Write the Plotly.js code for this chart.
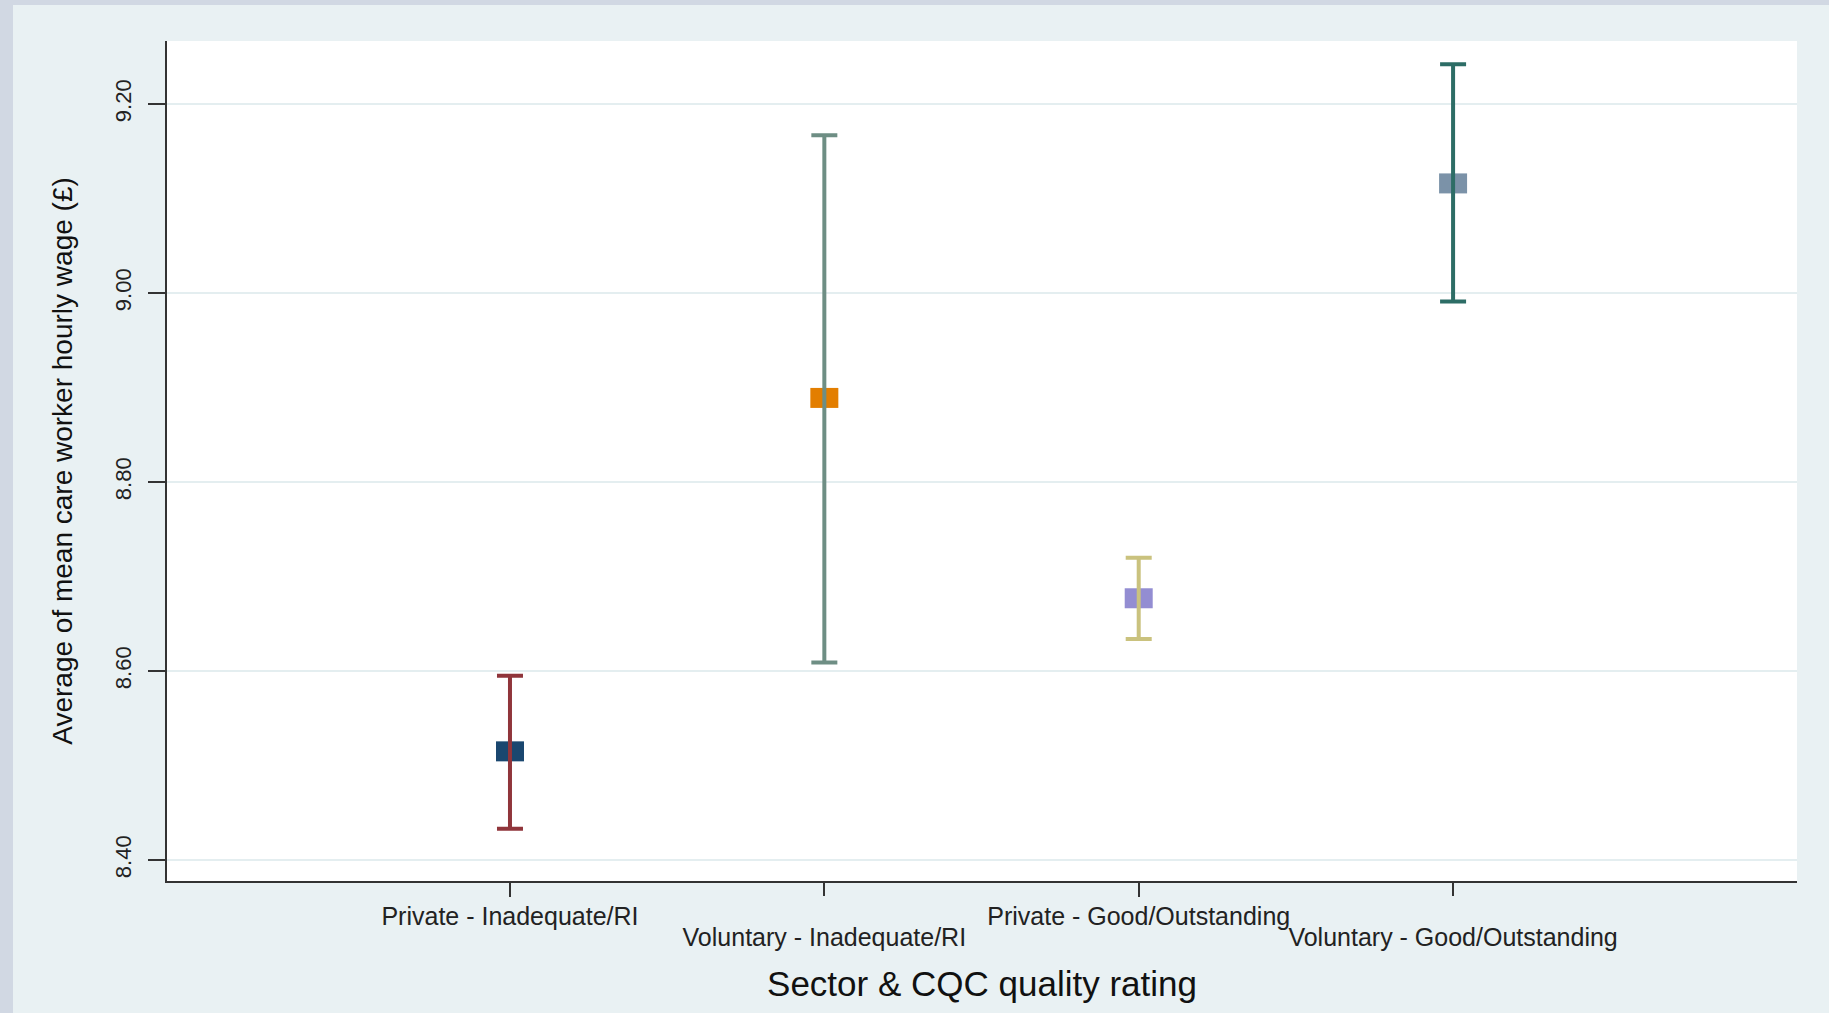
<!DOCTYPE html>
<html>
<head>
<meta charset="utf-8">
<script src="https://cdn.plot.ly/plotly-3.0.1.min.js"></script>
<style>
  html, body { margin: 0; padding: 0; background: #d1d8e3; width: 1829px; height: 1013px; overflow: hidden; }
  #chart { position: absolute; left: 13px; top: 5px; width: 1816px; height: 1008px; }
</style>
</head>
<body>
<div id="chart"></div>
<script>
// ---- Data ----
const categories = [
  'Private - Inadequate/RI',
  'Voluntary - Inadequate/RI',
  'Private - Good/Outstanding',
  'Voluntary - Good/Outstanding'
];
const meanWage = [8.515, 8.889, 8.677, 9.116];
const upperCI  = [8.595, 9.167, 8.720, 9.242];
const lowerCI  = [8.433, 8.609, 8.634, 8.991];

// ---- Styles ----
const markerColors = ['#1a476f', '#e37e00', '#938dd2', '#7b92a8'];
const barColors    = ['#90353b', '#6e8e84', '#cac27e', '#2d6d66'];
const FONT = '"Liberation Sans", Arial, Helvetica, sans-serif';

const xs = categories.map((c, i) => i);

const traces = [];
// mean markers (rectangles drawn as thick horizontal line symbols)
traces.push({
  type: 'scatter', mode: 'markers',
  x: xs, y: meanWage,
  xaxis: 'x', yaxis: 'y',
  marker: {
    symbol: 'line-ew', size: 20,
    color: markerColors,
    line: { color: markerColors, width: 20 }
  },
  hoverinfo: 'skip', showlegend: false
});
// confidence intervals, one trace per category, drawn on top
categories.forEach((c, i) => {
  traces.push({
    type: 'scatter', mode: 'markers',
    x: [xs[i]], y: [meanWage[i]],
    xaxis: 'x2', yaxis: 'y',
    marker: { size: 1, opacity: 0 },
    error_y: {
      type: 'data', symmetric: false,
      array: [upperCI[i] - meanWage[i]],
      arrayminus: [meanWage[i] - lowerCI[i]],
      color: barColors[i], thickness: 4, width: 13
    },
    hoverinfo: 'skip', showlegend: false
  });
});

const xRange = [-1.091, 4.094];
const evenIdx = xs.filter(i => i % 2 === 0);
const oddIdx = xs.filter(i => i % 2 === 1);

const layout = {
  width: 1816, height: 1008,
  paper_bgcolor: '#e9f1f3',
  plot_bgcolor: '#ffffff',
  margin: { l: 154, r: 32, t: 36, b: 132, pad: 0 },
  font: { family: FONT, color: '#222222' },
  showlegend: false,
  xaxis: {
    range: xRange, fixedrange: true,
    tickmode: 'array', tickvals: evenIdx, ticktext: evenIdx.map(i => categories[i]),
    ticks: 'outside', ticklen: 14, tickwidth: 2, tickcolor: '#333333',
    tickfont: { family: FONT, size: 25, color: '#222222' },
    ticklabelstandoff: -2,
    showline: true, linecolor: '#333333', linewidth: 2,
    showgrid: false, zeroline: false, automargin: false,
    title: { text: 'Sector & CQC quality rating', font: { family: FONT, size: 35, color: '#111111' }, standoff: 42 }
  },
  xaxis2: {
    overlaying: 'x', anchor: 'y', side: 'bottom',
    range: xRange, fixedrange: true,
    tickmode: 'array', tickvals: oddIdx, ticktext: oddIdx.map(i => categories[i]),
    ticks: 'outside', ticklen: 14, tickwidth: 2, tickcolor: '#333333',
    tickfont: { family: FONT, size: 25, color: '#222222' },
    ticklabelstandoff: 20,
    showline: false, showgrid: false, zeroline: false, automargin: false
  },
  yaxis: {
    range: [8.3778, 9.2667], fixedrange: true,
    tickmode: 'linear', tick0: 8.4, dtick: 0.2, tickformat: '.2f',
    tickangle: -90,
    ticks: 'outside', ticklen: 17, tickwidth: 2, tickcolor: '#333333',
    tickfont: { family: FONT, size: 22, color: '#222222' },
    ticklabelstandoff: 8,
    showline: true, linecolor: '#333333', linewidth: 2,
    showgrid: true, gridcolor: '#e4eef0', gridwidth: 2,
    zeroline: false, automargin: false,
    title: { text: 'Average of mean care worker hourly wage (£)', font: { family: FONT, size: 28, color: '#111111' }, standoff: 30 }
  }
};

Plotly.newPlot('chart', traces, layout, { staticPlot: true, displayModeBar: false });
</script>
</body>
</html>
